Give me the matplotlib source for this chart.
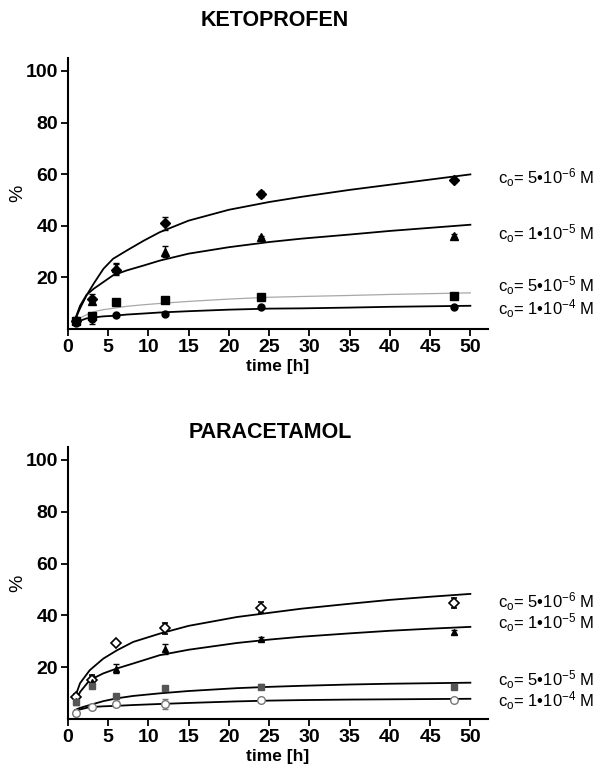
import matplotlib
matplotlib.use("Agg")
import matplotlib.pyplot as plt

# sampling times [h]
t = [1, 3, 6, 12, 24, 48]

# KETOPROFEN measured points (%), with error bars
k_5e6 = [3.0, 11.5, 23.0, 41.0, 52.3, 57.6]
k_5e6_err = [1.0, 2.0, 2.0, 2.5, 1.2, 0.8]
k_1e5 = [3.5, 11.0, 23.5, 30.0, 35.7, 36.2]
k_1e5_err = [1.0, 1.5, 2.0, 2.0, 0.5, 0.5]
k_5e5 = [3.0, 5.0, 10.6, 11.3, 12.5, 12.9]
k_5e5_err = [0.5, 1.0, 0.5, 0.5, 0.6, 0.6]
k_1e4 = [2.5, 4.0, 5.4, 6.0, 8.5, 8.6]
k_1e4_err = [0.5, 2.0, 0.3, 0.4, 0.3, 0.3]

# KETOPROFEN fitted curves
tk_fit = [0.7, 1.5, 2.3, 3.2, 4.4, 5.6, 7.3, 9.4, 11.4, 15, 20, 25, 29, 35, 40, 45, 50]
kf_5e6 = [2.2, 8.0, 13.0, 17.6, 23.3, 27.2, 30.4, 34.2, 37.5, 42.0, 46.2, 49.2, 51.2, 53.9, 55.9, 57.9, 59.9]
kf_1e5 = [2.2, 9.0, 13.2, 15.6, 18.2, 20.8, 22.7, 24.6, 26.5, 29.2, 31.7, 33.7, 35.0, 36.6, 38.0, 39.2, 40.4]
kf_5e5 = [2.8, 4.3, 5.5, 6.7, 7.5, 8.0, 8.8, 9.4, 9.9, 10.7, 11.6, 12.3, 12.6, 13.0, 13.4, 13.7, 14.0]
kf_1e4 = [2.2, 3.2, 4.1, 4.5, 4.9, 5.1, 5.6, 6.0, 6.4, 6.9, 7.5, 7.9, 8.0, 8.3, 8.6, 8.8, 9.0]

# PARACETAMOL measured points (%), with error bars
p_5e6 = [8.7, 15.0, 29.4, 35.0, 43.0, 44.8]
p_5e6_err = [1.0, 2.0, 0.8, 2.0, 2.0, 2.0]
p_1e5 = [7.0, 14.5, 19.5, 27.0, 31.0, 33.6]
p_1e5_err = [1.0, 2.0, 1.8, 2.0, 0.8, 0.8]
p_5e5 = [6.5, 12.9, 9.0, 12.0, 12.5, 12.5]
p_5e5_err = [1.0, 1.0, 0.5, 0.7, 1.0, 0.8]
p_1e4 = [2.4, 4.9, 6.0, 6.0, 7.3, 7.5]
p_1e4_err = [1.0, 1.0, 1.0, 2.0, 0.6, 0.6]

# PARACETAMOL fitted curves
tp_fit = [0.9, 1.5, 2.7, 4.4, 6.1, 8.1, 11.4, 15, 21, 25, 29, 35, 40, 45, 50]
pf_5e6 = [8.7, 13.9, 18.9, 23.4, 26.6, 29.8, 33.0, 36.0, 39.4, 41.0, 42.6, 44.5, 46.0, 47.2, 48.3]
pf_1e5 = [6.2, 10.5, 15.1, 17.7, 19.6, 21.5, 24.7, 26.8, 29.4, 30.7, 31.8, 33.1, 34.1, 34.9, 35.6]
pf_5e5 = [3.6, 4.4, 5.5, 7.0, 8.1, 9.0, 10.0, 10.9, 12.0, 12.5, 12.9, 13.4, 13.7, 13.9, 14.1]
pf_1e4 = [3.0, 3.8, 4.7, 5.0, 5.2, 5.5, 5.9, 6.3, 6.9, 7.2, 7.4, 7.6, 7.7, 7.8, 7.9]

labels = [r'c$_\mathrm{o}$= 5•10$^{-6}$ M', r'c$_\mathrm{o}$= 1•10$^{-5}$ M',
          r'c$_\mathrm{o}$= 5•10$^{-5}$ M', r'c$_\mathrm{o}$= 1•10$^{-4}$ M']
k_label_y = [58.5, 37.0, 16.6, 8.0]
p_label_y = [45.3, 37.2, 15.2, 7.3]

plt.rcParams.update({
    'font.family': ['Liberation Sans', 'DejaVu Sans'],
    'mathtext.fontset': 'custom',
    'mathtext.rm': 'Liberation Sans',
    'mathtext.it': 'Liberation Sans:italic',
    'axes.linewidth': 1.5,
})

fig = plt.figure(figsize=(6.01, 7.68), dpi=100)
ax1 = fig.add_axes([0.1131, 0.5716, 0.699, 0.3529])
ax2 = fig.add_axes([0.1131, 0.0634, 0.699, 0.355])


def style(ax):
    ax.set_xlim(0, 52.2)
    ax.set_ylim(0, 105)
    ax.spines['top'].set_visible(False)
    ax.spines['right'].set_visible(False)
    ax.set_xticks(range(0, 51, 5))
    ax.set_yticks([20, 40, 60, 80, 100])
    ax.tick_params(direction='out', length=5, width=1.3, labelsize=14, pad=2)
    for lab in ax.get_xticklabels() + ax.get_yticklabels():
        lab.set_fontweight('bold')
    ax.set_xlabel('time [h]', fontsize=12.5, fontweight='bold', labelpad=2)
    ax.set_ylabel('%', fontsize=14)
    ax.yaxis.set_label_coords(-0.1, 0.5)


# ---- KETOPROFEN ----
ax1.plot(tk_fit, kf_5e6, color='black', lw=1.3)
ax1.plot(tk_fit, kf_1e5, color='black', lw=1.3)
ax1.plot(tk_fit, kf_5e5, color='#a8a8a8', lw=0.9)
ax1.plot(tk_fit, kf_1e4, color='black', lw=1.3)
ax1.errorbar(t, k_5e6, yerr=k_5e6_err, fmt='D', ms=5, color='black', capsize=2, elinewidth=1)
ax1.errorbar(t, k_1e5, yerr=k_1e5_err, fmt='^', ms=6, color='black', capsize=2, elinewidth=1)
ax1.errorbar(t, k_5e5, yerr=k_5e5_err, fmt='s', ms=5.5, color='black', capsize=2, elinewidth=1)
ax1.errorbar(t, k_1e4, yerr=k_1e4_err, fmt='o', ms=5, color='black', capsize=2, elinewidth=1)
style(ax1)
for lab, yv in zip(labels, k_label_y):
    ax1.text(53.4, yv, lab, fontsize=12, ha='left', va='center', clip_on=False)

# ---- PARACETAMOL ----
ax2.plot(tp_fit, pf_5e6, color='black', lw=1.3)
ax2.plot(tp_fit, pf_1e5, color='black', lw=1.3)
ax2.plot(tp_fit, pf_5e5, color='black', lw=1.3)
ax2.plot(tp_fit, pf_1e4, color='black', lw=1.3)
ax2.errorbar(t, p_5e6, yerr=p_5e6_err, fmt='D', ms=5, color='black', mfc='white',
             mew=1.2, capsize=2, elinewidth=1)
ax2.errorbar(t, p_1e5, yerr=p_1e5_err, fmt='^', ms=4, color='black', capsize=2, elinewidth=1)
ax2.errorbar(t, p_5e5, yerr=p_5e5_err, fmt='s', ms=4, color='#555555', capsize=2, elinewidth=1)
ax2.errorbar(t, p_1e4, yerr=p_1e4_err, fmt='o', ms=5.5, color='#777777', mfc='white',
             mew=1, capsize=2, elinewidth=1)
style(ax2)
for lab, yv in zip(labels, p_label_y):
    ax2.text(53.4, yv, lab, fontsize=12, ha='left', va='center', clip_on=False)

fig.text(275 / 601, 1 - 21 / 768, 'KETOPROFEN', ha='center', va='center',
         fontsize=15.5, fontweight='bold')
fig.text(270 / 601, 1 - 433 / 768, 'PARACETAMOL', ha='center', va='center',
         fontsize=15.5, fontweight='bold')

fig.savefig('out.png', dpi=100)
